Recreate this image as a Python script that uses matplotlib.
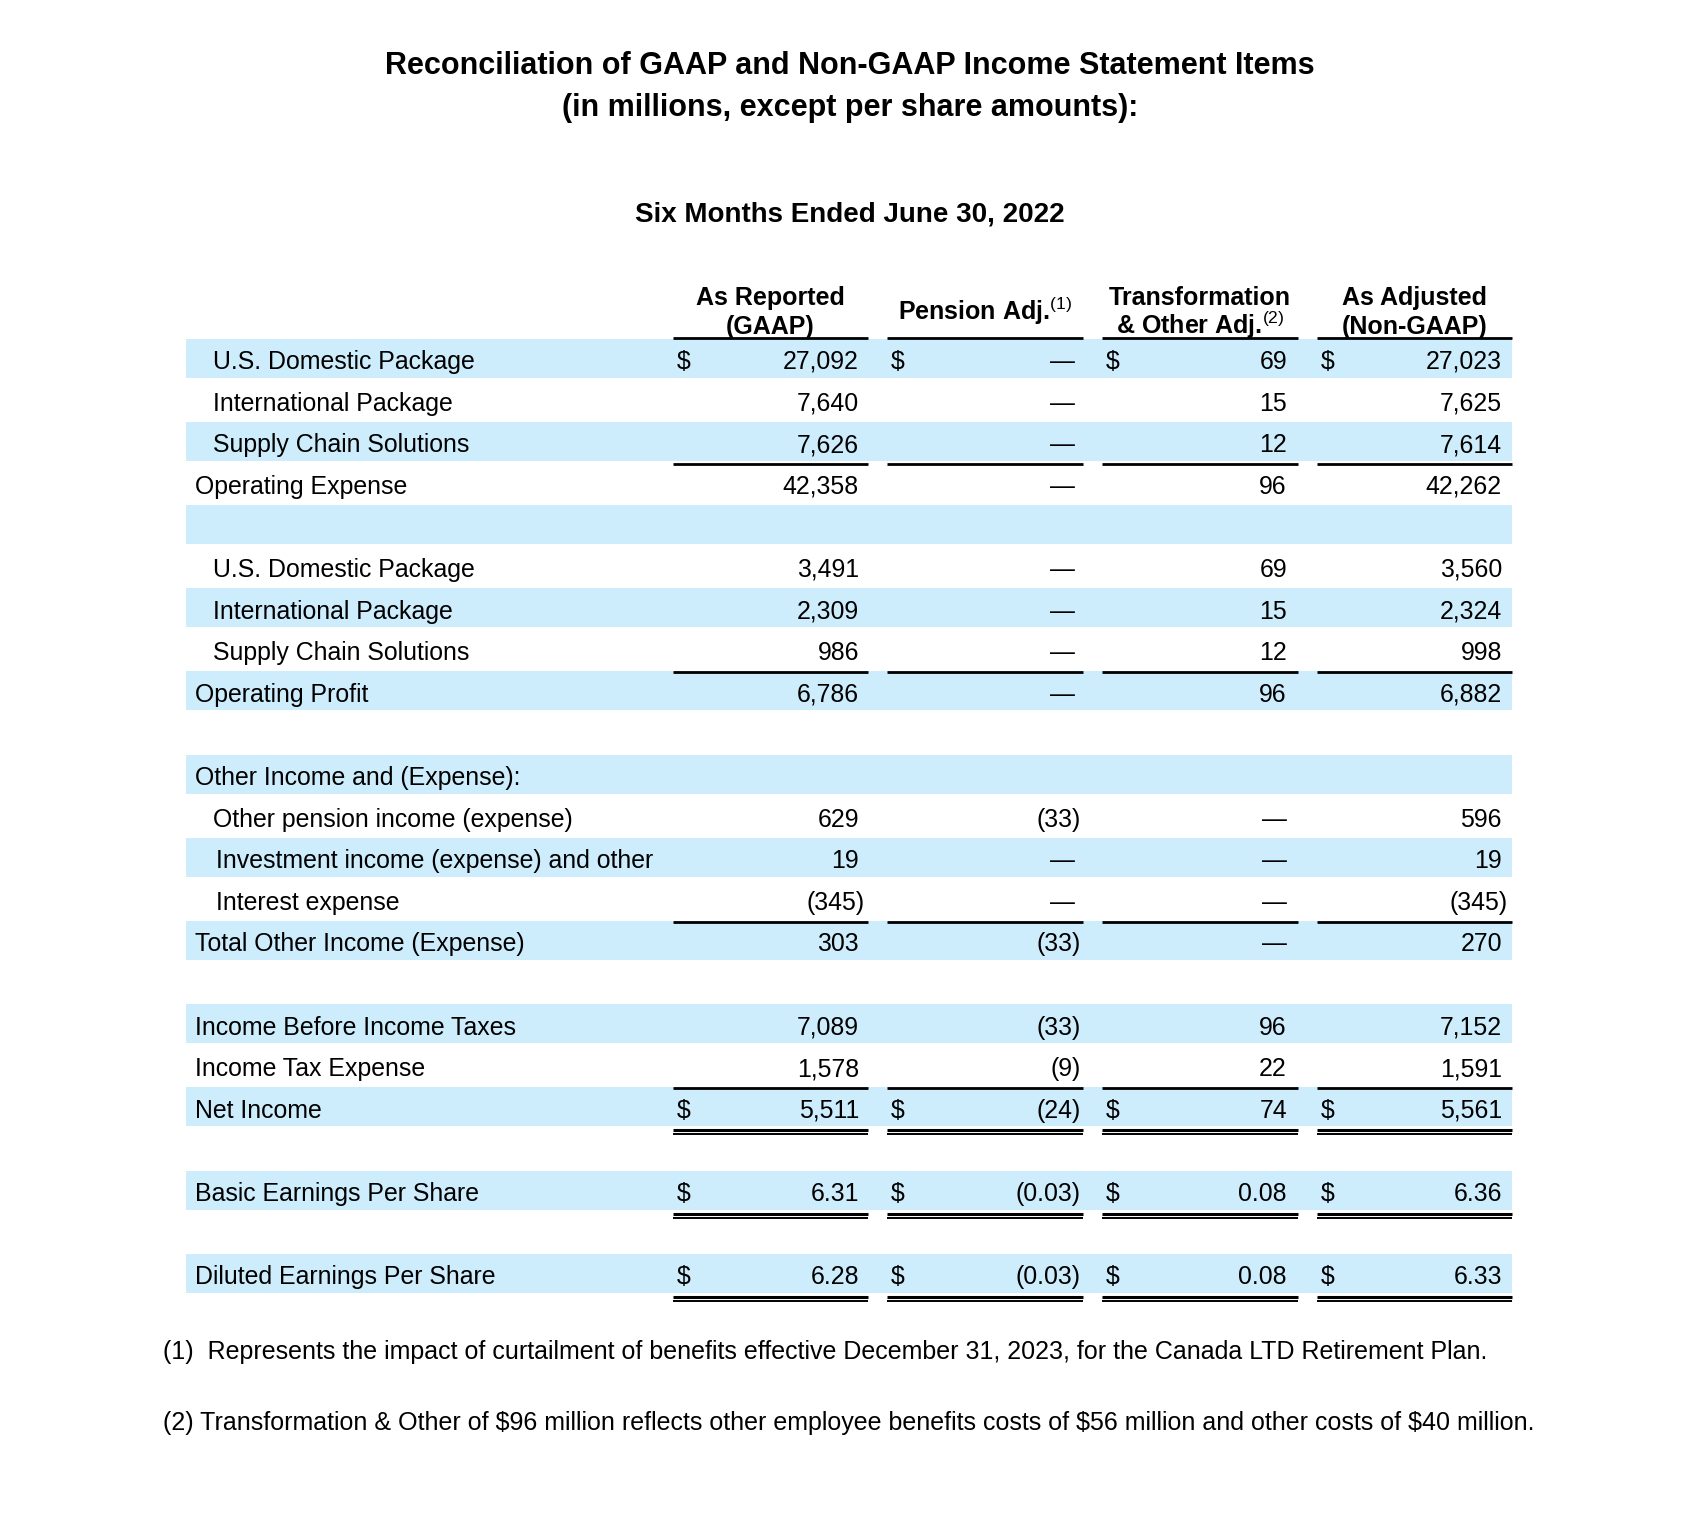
import matplotlib.pyplot as plt
from matplotlib.patches import Rectangle

plt.rcParams['font.family'] = ['Liberation Sans', 'DejaVu Sans']
plt.rcParams['mathtext.fontset'] = 'custom'
plt.rcParams['mathtext.rm'] = 'Liberation Sans'

# ---- data ----
title_lines = ["Reconciliation of GAAP and Non-GAAP Income Statement Items",
               "(in millions, except per share amounts):"]
period = "Six Months Ended June 30, 2022"
col_heads = [["As Reported", "(GAAP)"],
             [r"Pension Adj.$^{\mathrm{(1)}}$"],
             ["Transformation", r"& Other Adj.$^{\mathrm{(2)}}$"],
             ["As Adjusted", "(Non-GAAP)"]]

labels = ["U.S. Domestic Package", "International Package", "Supply Chain Solutions",
          "Operating Expense", "",
          "U.S. Domestic Package", "International Package", "Supply Chain Solutions",
          "Operating Profit", "",
          "Other Income and (Expense):", "Other pension income (expense)",
          "Investment income (expense) and other", "Interest expense",
          "Total Other Income (Expense)", "",
          "Income Before Income Taxes", "Income Tax Expense", "Net Income", "",
          "Basic Earnings Per Share", "", "Diluted Earnings Per Share"]
indent = [1, 1, 1, 0, 0, 1, 1, 1, 0, 0, 0, 1, 2, 2, 0, 0, 0, 0, 0, 0, 0, 0, 0]

reported = [27092, 7640, 7626, 42358, None, 3491, 2309, 986, 6786, None, None,
            629, 19, -345, 303, None, 7089, 1578, 5511, None, 6.31, None, 6.28]
pension = [0, 0, 0, 0, None, 0, 0, 0, 0, None, None,
           -33, 0, 0, -33, None, -33, -9, -24, None, -0.03, None, -0.03]
transform = [69, 15, 12, 96, None, 69, 15, 12, 96, None, None,
             0, 0, 0, 0, None, 96, 22, 74, None, 0.08, None, 0.08]
adjusted = [27023, 7625, 7614, 42262, None, 3560, 2324, 998, 6882, None, None,
            596, 19, -345, 270, None, 7152, 1591, 5561, None, 6.36, None, 6.33]

dollar_rows = [0, 18, 20, 22]
eps_rows = [20, 22]
single_rule = [2, 7, 13, 17]
double_rule = [18, 20, 22]

footnotes = ["(1)  Represents the impact of curtailment of benefits effective December 31, 2023, for the Canada LTD Retirement Plan.",
             "(2) Transformation & Other of $96 million reflects other employee benefits costs of $56 million and other costs of $40 million."]

# ---- layout (pixels) ----
W, H = 1700, 1513
band_color = '#cdedfc'
y0, pitch = 358, 41.6
band_x0, band_x1 = 186.5, 1512.5
seg = [(673, 868), (887, 1083), (1102, 1298), (1317, 1512)]
right = [859, 1075, 1287, 1502]
indent_x = [195, 213, 216.5]
fs = 17.9


def fmt(v, eps):
    if v is None:
        return ""
    if v == 0:
        return "\u2014"
    s = "{:,.2f}".format(abs(v)) if eps else "{:,}".format(abs(v))
    return "(" + s + ")" if v < 0 else s


fig = plt.figure(figsize=(W / 100, H / 100), dpi=100)
ax = fig.add_axes([0, 0, 1, 1])
ax.set_xlim(0, W)
ax.set_ylim(H, 0)
ax.axis('off')

# titles
ax.text(850, 74, title_lines[0], ha='center', va='baseline', fontsize=22.0, fontweight='bold')
ax.text(850, 116, title_lines[1], ha='center', va='baseline', fontsize=22.0, fontweight='bold')
ax.text(850, 222, period, ha='center', va='baseline', fontsize=20.0, fontweight='bold')

# column headers
for (a, b), head in zip(seg, col_heads):
    cx = (a + b) / 2
    if len(head) == 2:
        ax.text(cx, 305, head[0], ha='center', va='baseline', fontsize=18.0, fontweight='bold')
        ax.text(cx, 334, head[1], ha='center', va='baseline', fontsize=18.0, fontweight='bold')
    else:
        ax.text(cx, 320, head[0], ha='center', va='baseline', fontsize=18.0, fontweight='bold')
    ax.plot([a, b], [337.5, 337.5], color='black', lw=2.0, solid_capstyle='butt')

# rows
cols = [reported, pension, transform, adjusted]
for i, lab in enumerate(labels):
    yc = y0 + i * pitch
    if i % 2 == 0:
        ax.add_patch(Rectangle((band_x0, yc - 19.5), band_x1 - band_x0, 39,
                               facecolor=band_color, edgecolor='none', zorder=0))
    if lab:
        ax.text(indent_x[indent[i]], yc + 11, lab, ha='left', va='baseline', fontsize=fs)
    for k, col in enumerate(cols):
        s = fmt(col[i], i in eps_rows)
        if not s:
            continue
        xr = right[k] + (6 if s.endswith(')') else 0)
        ax.text(xr, yc + 11, s, ha='right', va='baseline', fontsize=fs)
        if i in dollar_rows:
            ax.text(seg[k][0] + 4, yc + 11, "$", ha='left', va='baseline', fontsize=fs)
    for a, b in seg:
        if i in single_rule:
            ax.plot([a, b], [yc + 23, yc + 23], color='black', lw=2.0, solid_capstyle='butt')
        if i in double_rule:
            ax.plot([a, b], [yc + 23.5, yc + 23.5], color='black', lw=2.2, solid_capstyle='butt')
            ax.plot([a, b], [yc + 27.5, yc + 27.5], color='black', lw=1.4, solid_capstyle='butt')

# footnotes
ax.text(163, 1359, footnotes[0], ha='left', va='baseline', fontsize=18.0)
ax.text(163, 1430, footnotes[1], ha='left', va='baseline', fontsize=18.0)

fig.savefig('out.png', dpi=100, facecolor='white')
